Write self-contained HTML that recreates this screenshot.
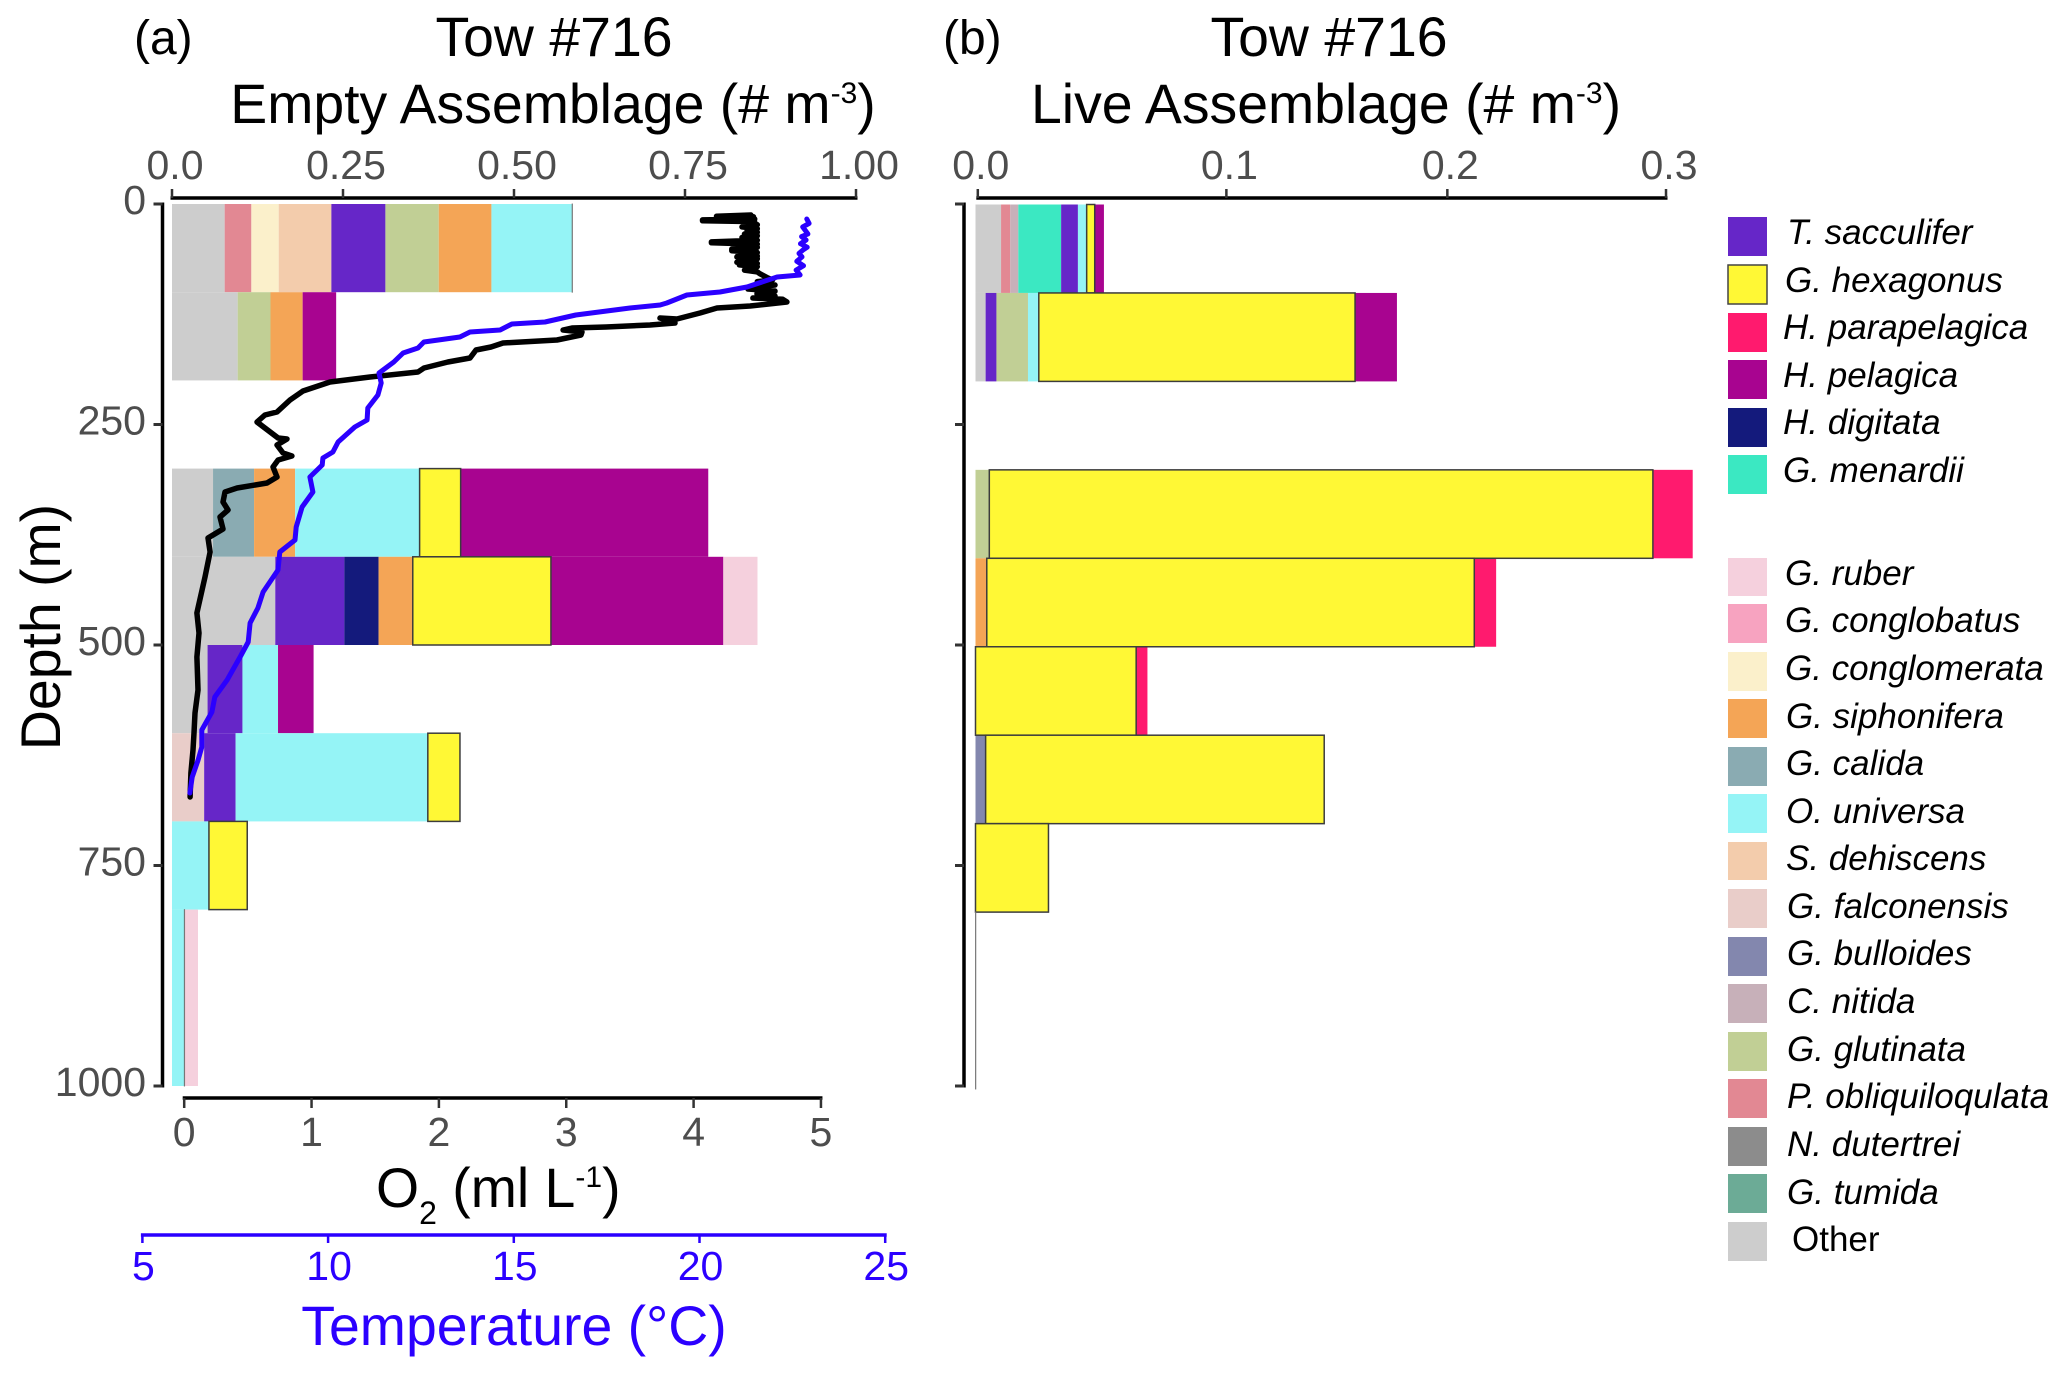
<!DOCTYPE html>
<html lang="en">
<head>
<meta charset="utf-8">
<title>Tow #716 assemblages</title>
<style>
html,body{margin:0;padding:0;background:#fff;}
svg{display:block;}
text{font-family:"Liberation Sans",Arial,sans-serif;}
.title{font-size:55.4px;fill:#000;}
.panel{font-size:48px;fill:#000;}
.tick{font-size:41px;fill:#4d4d4d;}
.leg{font-size:35px;font-style:italic;fill:#000;}
</style>
</head>
<body>
<svg id="chart" xmlns="http://www.w3.org/2000/svg" width="2067" height="1375" viewBox="0 0 2067 1375">
<rect x="0" y="0" width="2067" height="1375" fill="#fff"/>

<text class="panel" x="134" y="54">(a)</text>
<text class="title" x="554" y="56" text-anchor="middle">Tow #716</text>
<text class="title" x="553" y="123" text-anchor="middle">Empty Assemblage (# m<tspan font-size="30" dy="-20">-3</tspan><tspan dy="20">)</tspan></text>

<text class="panel" x="943" y="54">(b)</text>
<text class="title" x="1329" y="56" text-anchor="middle">Tow #716</text>
<text class="title" x="1326" y="123" text-anchor="middle">Live Assemblage (# m<tspan font-size="30" dy="-20">-3</tspan><tspan dy="20">)</tspan></text>

<text class="title" transform="translate(60,627) rotate(-90)" text-anchor="middle">Depth (m)</text>
<text class="title" x="376" y="1207">O<tspan font-size="32" dy="17">2</tspan><tspan dy="-17"> (ml L</tspan><tspan font-size="30" dy="-20">-1</tspan><tspan dy="20">)</tspan></text>
<text class="title" x="514" y="1345" text-anchor="middle" style="fill:#2b00ff">Temperature (°C)</text>

<g id="bars-a"></g>
<g id="bars-b"></g>
<g id="axes"></g>
<g id="lines"></g>

<g>
<g><rect x="1728" y="217" width="39" height="39" fill="#6626c8"/><text class="leg" x="1787" y="244">T. sacculifer</text></g>
<g><rect x="1728" y="265" width="39" height="39" fill="#fff835" stroke="#444" stroke-width="1.5"/><text class="leg" x="1785" y="292">G. hexagonus</text></g>
<g><rect x="1728" y="313" width="39" height="39" fill="#ff1a6e"/><text class="leg" x="1783" y="339">H. parapelagica</text></g>
<g><rect x="1728" y="360" width="39" height="39" fill="#a80490"/><text class="leg" x="1783" y="387">H. pelagica</text></g>
<g><rect x="1728" y="408" width="39" height="39" fill="#141a7c"/><text class="leg" x="1783" y="434">H. digitata</text></g>
<g><rect x="1728" y="455" width="39" height="39" fill="#3be8c2"/><text class="leg" x="1783" y="482">G. menardii</text></g>
<g><rect x="1728" y="558" width="39" height="38" fill="#f5d0dd"/><text class="leg" x="1785" y="585">G. ruber</text></g>
<g><rect x="1728" y="604" width="39" height="39" fill="#f7a3c0"/><text class="leg" x="1785" y="632">G. conglobatus</text></g>
<g><rect x="1728" y="652" width="39" height="39" fill="#fbf0cb"/><text class="leg" x="1785" y="680">G. conglomerata</text></g>
<g><rect x="1728" y="699" width="39" height="39" fill="#f4a556"/><text class="leg" x="1786" y="728">G. siphonifera</text></g>
<g><rect x="1728" y="747" width="39" height="39" fill="#8aabb2"/><text class="leg" x="1786" y="775">G. calida</text></g>
<g><rect x="1728" y="794" width="39" height="39" fill="#95f4f6"/><text class="leg" x="1786" y="823">O. universa</text></g>
<g><rect x="1728" y="842" width="39" height="38" fill="#f3ccac"/><text class="leg" x="1786" y="870">S. dehiscens</text></g>
<g><rect x="1728" y="889" width="39" height="39" fill="#e9cdc9"/><text class="leg" x="1787" y="918">G. falconensis</text></g>
<g><rect x="1728" y="937" width="39" height="39" fill="#8387ae"/><text class="leg" x="1787" y="965">G. bulloides</text></g>
<g><rect x="1728" y="984" width="39" height="39" fill="#c7b0b9"/><text class="leg" x="1787" y="1013">C. nitida</text></g>
<g><rect x="1728" y="1032" width="39" height="39" fill="#c1cf95"/><text class="leg" x="1787" y="1061">G. glutinata</text></g>
<g><rect x="1728" y="1079" width="39" height="39" fill="#e28893"/><text class="leg" x="1787" y="1108">P. obliquiloqulata</text></g>
<g><rect x="1728" y="1127" width="39" height="39" fill="#8c8c8c"/><text class="leg" x="1787" y="1156">N. dutertrei</text></g>
<g><rect x="1728" y="1174" width="39" height="39" fill="#6cab96"/><text class="leg" x="1787" y="1204">G. tumida</text></g>
<g><rect x="1728" y="1222" width="39" height="39" fill="#cdcdcd"/><text class="leg" x="1792" y="1251" style="font-style:normal">Other</text></g>
</g>
</svg>

<script>
// ---------- depth bins (m) ----------
const binTops = [0, 100, 300, 400, 500, 600, 700, 800];
const binBottoms = [100, 200, 400, 500, 600, 700, 800, 1000];

// ---------- empty assemblage (# m-3) ----------
const emptySpecies = [
  ['other','obliq','conglomerata','dehiscens','sacculifer','glutinata','siphonifera','universa','hexagonus'],
  ['other','glutinata','siphonifera','pelagica'],
  ['other','calida','siphonifera','universa','hexagonus','pelagica'],
  ['other','sacculifer','digitata','siphonifera','hexagonus','pelagica','ruber'],
  ['other','sacculifer','universa','pelagica'],
  ['falconensis','sacculifer','universa','hexagonus'],
  ['universa','hexagonus'],
  ['universa','hexagonus','ruber']
];
const emptyValues = [
  [0.077,0.039,0.040,0.077,0.079,0.078,0.077,0.118,0],
  [0.096,0.048,0.047,0.049],
  [0.060,0.060,0.060,0.182,0.060,0.362],
  [0.151,0.101,0.050,0.050,0.202,0.252,0.050],
  [0.052,0.051,0.052,0.052],
  [0.047,0.046,0.281,0.047],
  [0.054,0.056],
  [0.018,0,0.020]
];

// ---------- live assemblage (# m-3) ----------
const liveSpecies = [
  ['other','obliq','nitida','menardii','sacculifer','universa','hexagonus','pelagica'],
  ['other','sacculifer','glutinata','universa','hexagonus','pelagica'],
  ['glutinata','hexagonus','parapelagica'],
  ['siphonifera','hexagonus','parapelagica'],
  ['hexagonus','parapelagica'],
  ['bulloides','hexagonus'],
  ['hexagonus'],
  ['hexagonus']
];
const liveValues = [
  [0.0111,0.0040,0.0035,0.0186,0.0073,0.0038,0.0035,0.0040],
  [0.0044,0.0047,0.0137,0.0047,0.1374,0.0182],
  [0.0060,0.2883,0.0173],
  [0.0049,0.2118,0.0095],
  [0.0698,0.0049],
  [0.0044,0.1471],
  [0.0317],
  [0]
];

// ---------- oxygen profile ----------
const o2Depth = [12.5,14,14.5,16,17,18,19,20,22,23.5,26,28,30,32,34,36,38,41,43,44,45.5,47,49,51,53,55,57,59,60,62,64,66,67.5,69,71,73,75,77,79,83.9,86,88,91.8,94,96.4,98.6,100,102,104.3,106.6,108,111.1,115.6,117.9,123.6,130.4,129.3,134.9,137.2,139.5,140.6,142.9,145.1,148.5,154.2,157.6,162.1,165.5,174.6,179.1,185.9,190.5,196.1,201.8,212,222.2,235.8,239.2,247.2,254,265.3,266.4,273.2,282.3,285.7,290.2,298.2,309.5,316.3,322,326.5,337.9,346.9,354.9,368.5,378.7,394.6,422.9,458,463.7,486.4,513.6,551,577.1,599.8,619,645.1,672.3];
const o2Values = [4.45,4.18,4.47,4.2,4.48,4.07,4.07,4.48,4.40,4.5,4.38,4.5,4.42,4.5,4.40,4.5,4.38,4.5,4.14,4.14,4.5,4.36,4.5,4.3,4.3,4.5,4.35,4.5,4.34,4.5,4.4,4.34,4.5,4.36,4.5,4.42,4.40,4.5,4.52,4.584,4.62,4.5,4.639,4.5,4.427,4.639,4.5,4.498,4.639,4.466,4.7,4.733,4.444,4.184,4.05,3.869,3.736,3.854,3.658,3.312,3.045,2.975,3.124,3.116,2.927,2.503,2.409,2.291,2.244,2.071,1.883,1.836,1.459,1.145,0.933,0.831,0.729,0.634,0.572,0.634,0.737,0.807,0.729,0.776,0.846,0.737,0.697,0.729,0.65,0.415,0.32,0.305,0.344,0.281,0.305,0.187,0.203,0.163,0.108,0.1,0.116,0.1,0.108,0.085,0.077,0.069,0.053,0.046];

// ---------- temperature profile ----------
const tempDepth = [17,22,26,29.5,34,37,40.8,45,49,52,56,60,65,70,75,80.5,82.8,94.1,99.8,103.2,112.2,114.5,117.9,125.9,133.8,136.1,142.9,145.1,150.8,156.5,163.3,168.9,179.1,191.6,203,216.6,231.3,244.9,252.8,269.8,281.2,288,295.9,309.5,326.5,343.5,366.2,381,394.6,415,439.9,458,475,496.6,513.6,539.7,559,576,596.4,615.6,630.4,649.7,667.8];
const tempValues = [22.89,22.95,22.78,22.84,22.92,22.75,22.87,22.72,22.9,22.79,22.68,22.76,22.62,22.8,22.6,22.71,22.09,21.28,20.55,19.66,19.12,18.94,18.13,16.67,15.84,14.95,14.63,13.82,13.55,12.58,12.42,12.02,11.77,11.37,11.43,11.34,11.07,11.05,10.72,10.27,10.13,9.86,9.84,9.51,9.59,9.3,9.14,9.11,8.7,8.65,8.25,8.11,7.9,7.85,7.63,7.28,6.95,6.87,6.6,6.6,6.5,6.34,6.28];

// ---------- tick values and labels ----------
const depthTicks = [0, 250, 500, 750, 1000];
const depthLabels = ['0', '250', '500', '750', '1000'];
const emptyTicks = [0, 0.25, 0.5, 0.75, 1];
const emptyLabels = ['0.0', '0.25', '0.50', '0.75', '1.00'];
const liveTicks = [0.001, 0.109, 0.205, 0.3];
const liveLabels = ['0.0', '0.1', '0.2', '0.3'];
const o2Ticks = [0, 1, 2, 3, 4, 5];
const o2Labels = ['0', '1', '2', '3', '4', '5'];
const tempTicks = [5, 10, 15, 20, 25];
const tempLabels = ['5', '10', '15', '20', '25'];

// ---------- species colours ----------
const speciesColors = {
  sacculifer:'#6626c8', hexagonus:'#fff835', parapelagica:'#ff1a6e', pelagica:'#a80490',
  digitata:'#141a7c', menardii:'#3be8c2', ruber:'#f5d0dd', conglobatus:'#f7a3c0',
  conglomerata:'#fbf0cb', siphonifera:'#f4a556', calida:'#8aabb2', universa:'#95f4f6',
  dehiscens:'#f3ccac', falconensis:'#e9cdc9', bulloides:'#8387ae', nitida:'#c7b0b9',
  glutinata:'#c1cf95', obliq:'#e28893', dutertrei:'#8c8c8c', tumida:'#6cab96', other:'#cdcdcd'
};

// ---------- axis functions ----------
const NS = 'http://www.w3.org/2000/svg';
const depthY = d => 204 + d * 0.882;
const liveDepthY = d => 204.5 + d * 0.8845;
const emptyX = v => 172 + v * 684;
const liveX = v => 975.5 + v * 2301.7;
const o2X = v => 184.2 + v * 127.35;
const tempX = v => 142.4 + (v - 5) * 37.14;

function make(tag, parent, attrs) {
  const el = document.createElementNS(NS, tag);
  for (const k in attrs) el.setAttribute(k, attrs[k]);
  parent.appendChild(el);
  return el;
}

function drawBars(parent, species, values, xf, yf) {
  const yellow = [];
  species.forEach((row, r) => {
    let cum = 0;
    row.forEach((name, i) => {
      const v = values[r][i];
      const x0 = xf(cum);
      const x1 = xf(cum + v);
      const y0 = yf(binTops[r]);
      const y1 = yf(binBottoms[r]);
      cum += v;
      const rect = make('rect', parent, {
        x: x0, y: y0, width: Math.max(x1 - x0, 0.3), height: y1 - y0,
        fill: speciesColors[name]
      });
      
      
      if (name === 'hexagonus') {
        rect.setAttribute('stroke', v === 0 ? '#777' : '#3c3c3c');
        rect.setAttribute('stroke-width', v === 0 ? '0.9' : '1.5');
        yellow.push(rect);
      }
    });
  });
  yellow.forEach(rect => parent.appendChild(rect));
}

drawBars(document.getElementById('bars-a'), emptySpecies, emptyValues, emptyX, depthY);
drawBars(document.getElementById('bars-b'), liveSpecies, liveValues, liveX, liveDepthY);

const axes = document.getElementById('axes');

function hAxis(name, ticks, labels, xf, y, dir, len, labelY, labelDx, color, textColor) {
  const line = make('line', axes, {
    x1: xf(ticks[0]) - 1.5, x2: xf(ticks[ticks.length - 1]) + 1.5, y1: y, y2: y,
    stroke: color, 'stroke-width': 3.5
  });
  
  
  ticks.forEach((t, i) => {
    const tick = make('line', axes, {
      x1: xf(t), x2: xf(t), y1: y, y2: y + dir * len,
      stroke: color === '#000' ? '#333' : color, 'stroke-width': 2.5
    });
    
    
    const label = make('text', axes, {
      x: xf(t) + labelDx, y: labelY, 'text-anchor': 'middle', class: 'tick'
    });
    label.style.fill = textColor;
    label.textContent = labels[i];
    
    
  });
}

function vAxis(name, x, withLabels) {
  const line = make('line', axes, {
    x1: x, x2: x, y1: depthY(depthTicks[0]) - 1.5, y2: depthY(depthTicks[depthTicks.length - 1]) + 1.5,
    stroke: '#000', 'stroke-width': 3.5
  });
  
  
  depthTicks.forEach((d, i) => {
    const tick = make('line', axes, {
      x1: x, x2: x - 9, y1: depthY(d), y2: depthY(d), stroke: '#333', 'stroke-width': 3
    });
    
    
    if (withLabels) {
      const label = make('text', axes, {
        x: 146, y: depthY(d) + 10, 'text-anchor': 'end', class: 'tick'
      });
      label.textContent = depthLabels[i];
      
      
    }
  });
}

hAxis('empty-axis', emptyTicks, emptyLabels, emptyX, 198, -1, 9, 179, 3, '#000', '#4d4d4d');
hAxis('live-axis', liveTicks, liveLabels, liveX, 198, -1, 9, 179, 3, '#000', '#4d4d4d');
hAxis('oxygen-axis', o2Ticks, o2Labels, o2X, 1098, 1, 10, 1146, 0, '#000', '#4d4d4d');
hAxis('temperature-axis', tempTicks, tempLabels, tempX, 1235, 1, 8, 1280, 1, '#2b00ff', '#2b00ff');
vAxis('depth-axis-a', 162.5, true);
vAxis('depth-axis-b', 964, false);

// ---------- profile lines ----------
const lines = document.getElementById('lines');

function profile(name, depths, values, xf, color, width) {
  let d = '';
  depths.forEach((dep, i) => {
    d += (i ? 'L' : 'M') + xf(values[i]).toFixed(1) + ' ' + depthY(dep).toFixed(1);
  });
  const p = make('path', lines, {
    d: d, fill: 'none', stroke: color, 'stroke-width': width,
    'stroke-linejoin': 'round', 'stroke-linecap': 'round'
  });
  
  
}

profile('oxygen-line', o2Depth, o2Values, o2X, '#000', 5.5);
profile('temperature-line', tempDepth, tempValues, tempX, '#2b00ff', 5);
</script>
</body>
</html>
